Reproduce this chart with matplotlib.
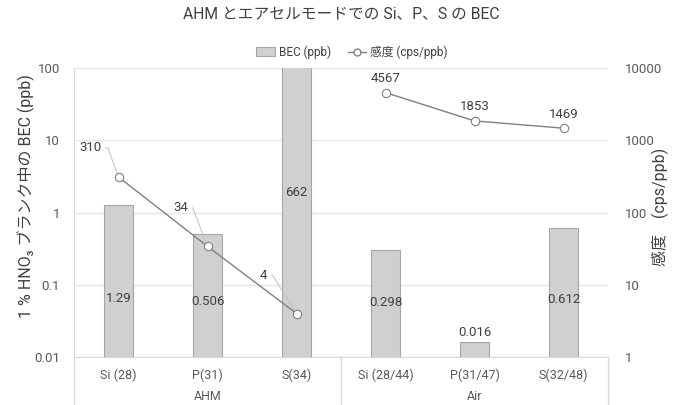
import matplotlib
matplotlib.use("Agg")
import matplotlib.pyplot as plt
import matplotlib.transforms as mtransforms
from matplotlib.patches import Patch
from matplotlib.lines import Line2D

plt.rcParams['font.family'] = ['Roboto', 'Noto Sans CJK JP', 'DejaVu Sans']

# Data
categories = ["Si (28)", "P(31)", "S(34)", "Si (28/44)", "P(31/47)", "S(32/48)"]
groups = ["AHM", "Air"]
bec_ppb = [1.29, 0.506, 662, 0.298, 0.016, 0.612]
bec_labels = ["1.29", "0.506", "662", "0.298", "0.016", "0.612"]
sensitivity = [310, 34, 4, 4567, 1853, 1469]
sens_labels = ["310", "34", "4", "4567", "1853", "1469"]
left_ticks = [0.01, 0.1, 1, 10, 100]
left_ticklabels = ["0.01", "0.1", "1", "10", "100"]
right_ticks = [1, 10, 100, 1000, 10000]
right_ticklabels = ["1", "10", "100", "1000", "10000"]

TEXT = "#404040"
TICK = "#595959"
GRID = "#e6e6e6"
AXIS = "#d9d9d9"
BAR = "#d0d0d0"
BAR_EDGE = "#a6a6a6"
LINE = "#808080"

fig = plt.figure(figsize=(6.82, 4.05), dpi=100)
ax = fig.add_axes([74 / 682, 1 - 357 / 405, (608 - 74) / 682, (357 - 68) / 405])
x = list(range(len(categories)))

# BEC bars on the left log axis
ax.set_yscale('log')
ax.set_ylim(0.01, 100)
ax.set_xlim(-0.5, len(categories) - 0.5)
ax.bar(x, bec_ppb, width=0.33, color=BAR, edgecolor=BAR_EDGE, linewidth=0.8, zorder=2)
ax.set_yticks(left_ticks)
ax.set_yticklabels(left_ticklabels)
ax.minorticks_off()
ax.yaxis.grid(True, color=GRID, linewidth=1.0, zorder=0)
ax.set_axisbelow(True)
for side in ['top', 'right']:
    ax.spines[side].set_visible(False)
for side in ['left', 'bottom']:
    ax.spines[side].set_color(AXIS)
ax.tick_params(axis='y', length=0, pad=10, labelsize=9.5, labelcolor=TICK)
ax.set_xticks(x)
ax.set_xticklabels(categories)
ax.tick_params(axis='x', length=0, pad=8, labelsize=9, labelcolor=TICK)
ax.set_ylabel("1 % HNO₃ ブランク中の BEC (ppb)", fontsize=11.5, color=TEXT)
ax.yaxis.set_label_coords(-0.073, 0.557)

# Bar value labels
bar_label_y = [0.065, 0.058, 1.9, 0.056, None, 0.063]
for xi, v, lab, ly in zip(x, bec_ppb, bec_labels, bar_label_y):
    if ly is None:
        ax.annotate(lab, (xi, v), xytext=(0, 10), textcoords='offset pixels',
                    ha='center', va='center', fontsize=9.5, color=TEXT)
    else:
        ax.text(xi, ly, lab, ha='center', va='center', fontsize=9.5, color=TEXT, zorder=3)

# Group separators and group labels below the axis
trans = mtransforms.blended_transform_factory(ax.transData, ax.transAxes)
for sep in [-0.5, 2.5, 5.5]:
    ax.plot([sep, sep], [0, -0.17], transform=trans, color=AXIS, linewidth=1.0, clip_on=False)
for gi, g in enumerate(groups):
    ax.text(gi * 3 + 1, -0.135, g, transform=trans, ha='center', va='center', fontsize=9, color=TICK)

# Sensitivity lines on the right log axis
ax2 = ax.twinx()
ax2.set_yscale('log')
ax2.set_ylim(1, 10000)
ax2.set_yticks(right_ticks)
ax2.set_yticklabels(right_ticklabels)
ax2.minorticks_off()
for side in ['top', 'right', 'left', 'bottom']:
    ax2.spines[side].set_visible(False)
ax2.tick_params(axis='y', length=0, pad=12, labelsize=9.5, labelcolor=TICK)
ax2.set_ylabel("感度\u3000(cps/ppb)", fontsize=11.5, color=TEXT)
ax2.yaxis.set_label_coords(1.082, 0.519)

for seg in [slice(0, 3), slice(3, 6)]:
    ax2.plot(x[seg], sensitivity[seg], color=LINE, linewidth=1.0, marker='o', markersize=6,
             markerfacecolor='white', markeredgecolor=LINE, markeredgewidth=0.8, zorder=4)

# AHM labels with leader lines
ahm_offsets = [(-17, 29), (-19, 39), (-29, 38)]
ahm_angles = [110, 111, 122]
for i, (off, ang) in enumerate(zip(ahm_offsets, ahm_angles)):
    ax2.annotate(sens_labels[i], (x[i], sensitivity[i]), xytext=off, textcoords='offset pixels',
                 ha='right', va='center', fontsize=9.5, color=TEXT,
                 arrowprops=dict(arrowstyle='-', color='#bfbfbf', linewidth=0.7,
                                 relpos=(1.0, 0.5), shrinkA=1, shrinkB=3,
                                 connectionstyle=f"angle,angleA=0,angleB={ang},rad=0"))
# Air labels above points
for i in range(3, 6):
    ax2.annotate(sens_labels[i], (x[i], sensitivity[i]), xytext=(0, 14), textcoords='offset pixels',
                 ha='center', va='center', fontsize=9.5, color=TEXT)

# Title and legend
fig.text(0.5, 1 - 15 / 405, "AHM とエアセルモードでの Si、P、S の BEC", ha='center', va='center',
         fontsize=11.3, color=TEXT)
handles = [Patch(facecolor=BAR, edgecolor=BAR_EDGE, linewidth=0.8),
           Line2D([0], [0], color=LINE, linewidth=1.0, marker='o', markersize=5,
                  markerfacecolor='white', markeredgecolor=LINE)]
fig.legend(handles, ["BEC (ppb)", "感度 (cps/ppb)"], loc='center', ncol=2,
           bbox_to_anchor=(352 / 682, 1 - 52 / 405), frameon=False, fontsize=8.5,
           labelcolor=TEXT, handlelength=1.6, handletextpad=0.3, columnspacing=1.4)

fig.savefig("out.png", dpi=100)
